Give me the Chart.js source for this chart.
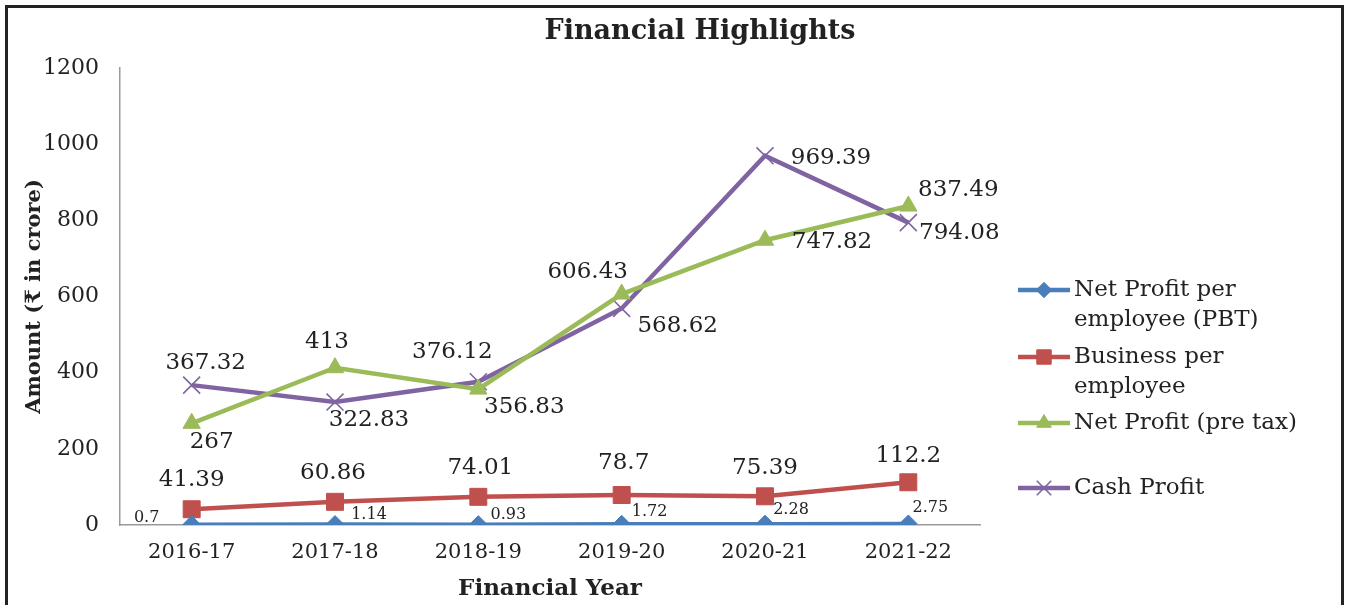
<!DOCTYPE html>
<html>
<head>
<meta charset="utf-8">
<title>Financial Highlights</title>
<script src="https://cdn.jsdelivr.net/npm/chart.js@4.4.0/dist/chart.umd.min.js"></script>
<style>
  html, body { margin: 0; padding: 0; background: #fff; overflow: hidden; }
  #wrap { position: relative; width: 1348px; height: 605px; }
  #frame { position: absolute; left: 5px; top: 5px; width: 1333px; height: 640px; border: 3px solid #222; pointer-events: none; }
</style>
</head>
<body>
<div id="wrap">
  <canvas id="finChart"></canvas>
  <div id="frame"></div>
</div>
<script>
// data
const years = ['2016-17', '2017-18', '2018-19', '2019-20', '2020-21', '2021-22'];
const netProfitPerEmp = [0.7, 1.14, 0.93, 1.72, 2.28, 2.75];
const businessPerEmp = [41.39, 60.86, 74.01, 78.7, 75.39, 112.2];
const netProfitPreTax = [267, 413, 356.83, 606.43, 747.82, 837.49];
const cashProfit = [367.32, 322.83, 376.12, 568.62, 969.39, 794.08];
const yTicks = [0, 200, 400, 600, 800, 1000, 1200];

const serif = "'DejaVu Serif', serif";
const textColor = '#222';

// where each value label sits relative to its point (dx, dy in px)
const labelOffsets = [
    [[-45, -7], [34, -10], [30, -10], [28, -13], [26, -14], [22, -16]],
    [[0, -29], [-2, -29], [2, -29], [2, -32], [0, -28], [0, -26]],
    [[20, 19], [-8, -26], [46, 18], [-34, -22], [67, 2], [50, -16]],
    [[14, -22], [34, 18], [-26, -30], [56, 18], [66, 2], [51, 10]]
];
const labelFontSizes = [16, 23, 23, 23];

// legend text split into lines like the original, and y of each entry
const legendText = [
    ['Net Profit per', 'employee (PBT)'],
    ['Business per', 'employee'],
    ['Net Profit (pre tax)'],
    ['Cash Profit']
];
const legendY = [290, 357, 423, 488];

const valueLabels = {
    id: 'valueLabels',
    afterDatasetsDraw(chart) {
        const ctx = chart.ctx;
        ctx.save();
        ctx.fillStyle = textColor;
        ctx.textAlign = 'center';
        ctx.textBaseline = 'middle';
        chart.data.datasets.forEach((ds, di) => {
            const meta = chart.getDatasetMeta(di);
            ctx.font = labelFontSizes[di] + 'px ' + serif;
            meta.data.forEach((pt, i) => {
                const off = labelOffsets[di][i];
                ctx.fillText(String(ds.data[i]), pt.x + off[0], pt.y + off[1]);
            });
        });
        ctx.restore();
    }
};

const titleAndLegend = {
    id: 'titleAndLegend',
    afterDraw(chart) {
        const ctx = chart.ctx;
        ctx.save();
        ctx.fillStyle = textColor;
        ctx.textAlign = 'center';
        ctx.textBaseline = 'middle';
        ctx.font = 'bold 27px ' + serif;
        ctx.fillText('Financial Highlights', 700, 32);

        chart.data.datasets.forEach((ds, di) => {
            const y = legendY[di];
            ctx.strokeStyle = ds.borderColor;
            ctx.lineWidth = 4.5;
            ctx.beginPath();
            ctx.moveTo(1018, y);
            ctx.lineTo(1070, y);
            ctx.stroke();
            ctx.fillStyle = ds.pointBackgroundColor;
            ctx.strokeStyle = ds.pointBorderColor;
            ctx.lineWidth = ds.pointBorderWidth;
            Chart.helpers.drawPoint(ctx, {
                pointStyle: ds.pointStyle,
                radius: ds.pointRadius * 0.85,
                borderWidth: ds.pointBorderWidth,
                rotation: 0
            }, 1044, y);
            ctx.fillStyle = textColor;
            ctx.textAlign = 'left';
            ctx.font = '23px ' + serif;
            legendText[di].forEach((line, li) => {
                ctx.fillText(line, 1074, y + li * 30);
            });
        });
        ctx.restore();
    }
};

function series(label, data, color, style, radius, bw) {
    return {
        label: label,
        data: data,
        borderColor: color,
        backgroundColor: color,
        borderWidth: 4.5,
        pointStyle: style,
        pointRadius: radius,
        pointHoverRadius: radius,
        pointBackgroundColor: color,
        pointBorderColor: color,
        pointBorderWidth: bw,
        tension: 0,
        fill: false
    };
}

const ctxFin = document.getElementById('finChart').getContext('2d');
const finChart = new Chart(ctxFin, {
    type: 'line',
    data: {
        labels: years,
        datasets: [
            series('Net Profit per employee (PBT)', netProfitPerEmp, '#4a7ebb', 'rectRot', 9, 1),
            series('Business per employee', businessPerEmp, '#c0504d', 'rect', 12, 1),
            series('Net Profit (pre tax)', netProfitPreTax, '#9bbb59', 'triangle', 10, 1),
            series('Cash Profit', cashProfit, '#8064a2', 'crossRot', 12, 1.6)
        ]
    },
    options: {
        responsive: true,
        maintainAspectRatio: false,
        animation: false,
        layout: {
            padding: { left: 6, right: 368, top: 68, bottom: 0 }
        },
        scales: {
            x: {
                offset: true,
                grid: { display: false, drawTicks: false },
                border: { display: true, color: '#9a9a9a', width: 1.5 },
                ticks: {
                    color: textColor,
                    padding: 15,
                    maxRotation: 0,
                    font: { family: serif, size: 21 }
                },
                title: {
                    display: true,
                    text: 'Financial Year',
                    color: textColor,
                    padding: { top: 0, bottom: 2 },
                    font: { family: serif, size: 23, weight: 'bold' }
                },
                afterFit: function (scale) { scale.height = 80; }
            },
            y: {
                min: 0,
                max: 1200,
                grid: { display: false, drawTicks: false },
                border: { display: true, color: '#9a9a9a', width: 1.5 },
                afterBuildTicks: function (scale) {
                    scale.ticks = yTicks.map(v => ({ value: v }));
                },
                ticks: {
                    color: textColor,
                    padding: 21,
                    font: { family: serif, size: 22 },
                    callback: function (value) { return String(value); }
                },
                title: {
                    display: true,
                    text: 'Amount (₹ in crore)',
                    color: textColor,
                    padding: { top: 16, bottom: 0 },
                    font: { family: serif, size: 21, weight: 'bold' }
                },
                afterFit: function (scale) { scale.width = 114; }
            }
        },
        plugins: {
            legend: { display: false },
            title: { display: false },
            tooltip: { enabled: false }
        }
    },
    plugins: [valueLabels, titleAndLegend]
});
</script>
</body>
</html>
